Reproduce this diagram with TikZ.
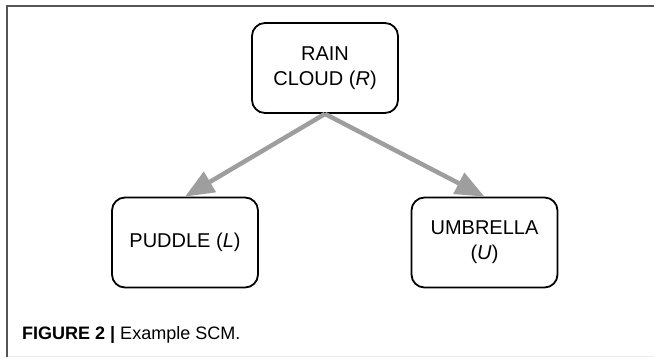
\documentclass[tikz,border=0pt]{standalone}
\usepackage{fontspec}
\setmainfont{Liberation Sans}
\usetikzlibrary{arrows.meta}
\definecolor{arrowgray}{RGB}{158,158,158}
\definecolor{framegray}{RGB}{85,85,85}
\definecolor{lightframe}{RGB}{235,235,235}
\begin{document}
\begin{tikzpicture}[x=1pt,y=-1pt,
  varbox/.style={draw=black, line width=1.8pt, rounded corners=13pt, minimum width=146pt, minimum height=90pt, inner sep=0pt, align=center, font=\fontsize{20}{25}\selectfont},
  causal/.style={draw=arrowgray, line width=4.5pt, -{Triangle[length=29pt,width=23pt]}}]
\useasboundingbox (0,0) rectangle (654,357);
\draw[line width=2pt, draw=framegray] (7,357) -- (7,6) -- (654,6);
\draw[line width=0.8pt, draw=lightframe] (8,356) -- (654,356);
\node[varbox] (R) at (325,68) {RAIN\\CLOUD (\textit{R})};
\node[varbox] (L) at (185,242.5) {PUDDLE (\textit{L})};
\node[varbox] (U) at (484.5,242.5) {UMBRELLA\\(\textit{U})};
\draw[causal] (R.south) -- (L.north);
\draw[causal] (R.south) -- (U.north);
\node[anchor=base west, inner sep=0pt, font=\fontsize{18}{20}\selectfont] (cap) at (22,339) {\textbf{FIGURE 2 |} Example SCM.};
\end{tikzpicture}
\end{document}
